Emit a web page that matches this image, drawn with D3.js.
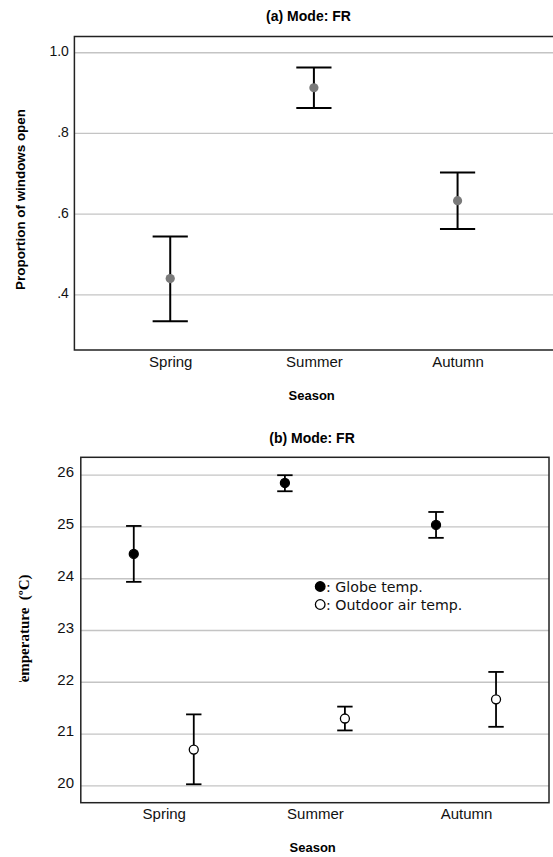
<!DOCTYPE html>
<html>
<head>
<meta charset="utf-8">
<script src="https://cdn.jsdelivr.net/npm/d3@7"></script>
<style>
  html, body { margin: 0; padding: 0; background: #fff; }
  svg { display: block; }
</style>
</head>
<body>
<svg id="chart" width="553" height="857"></svg>
<script>
// ---------- data ----------
const seasons = ["Spring", "Summer", "Autumn"];

// (a) proportion of windows open
const propMean = [0.439, 0.912, 0.632];
const propLow  = [0.333, 0.862, 0.562];
const propHigh = [0.543, 0.962, 0.702];
const propTicks = [0.4, 0.6, 0.8, 1.0];
const propTickLabels = [".4", ".6", ".8", "1.0"];

// (b) temperatures
const globeMean = [24.47, 25.84, 25.03];
const globeLow  = [23.93, 25.68, 24.78];
const globeHigh = [25.01, 25.99, 25.28];
const outMean = [20.69, 21.29, 21.66];
const outLow  = [20.02, 21.06, 21.13];
const outHigh = [21.37, 21.52, 22.19];
const tempTicks = [20, 21, 22, 23, 24, 25, 26];
const seriesNames = ["globe", "outdoor"];
const legendLabels = [": Globe temp.", ": Outdoor air temp."];

// ---------- drawing ----------
const svg = d3.select("#chart");
const sans = "'Liberation Sans', Arial, Helvetica, sans-serif";
const gridColor = "#c4c4c4";
const frameColor = "#222";

// ===== Panel (a) =====
const A = { left: 74.4, right: 553.4, top: 36.5, bottom: 350 };
const xA = d3.scalePoint().domain(seasons).range([A.left, A.right]).padding(0.667);
const yA = d3.scaleLinear().domain([0.262, 1.039]).range([A.bottom, A.top]);

const gA = svg.append("g");
gA.append("g")
  .attr("transform", `translate(${A.left},0)`)
  .call(d3.axisLeft(yA).tickValues(propTicks).tickSize(-(A.right - A.left)).tickFormat(""))
  .call(g => g.select(".domain").remove())
  .call(g => g.selectAll("line").attr("stroke", gridColor).attr("stroke-width", 1.3));
gA.append("g")
  .attr("transform", `translate(${A.left},0)`)
  .call(d3.axisLeft(yA).tickValues(propTicks).tickSize(0).tickPadding(5.5)
        .tickFormat((d, i) => propTickLabels[i]))
  .call(g => g.select(".domain").remove())
  .call(g => g.selectAll("text").attr("font-family", sans).attr("font-size", 14)
        .attr("fill", "#111").attr("dy", "0.25em"));
gA.append("g")
  .attr("transform", `translate(0,${A.bottom})`)
  .call(d3.axisBottom(xA).tickSize(0).tickPadding(6))
  .call(g => g.select(".domain").remove())
  .call(g => g.selectAll("text").attr("font-family", sans).attr("font-size", 15)
        .attr("fill", "#111"));
gA.append("path")
  .attr("d", `M${A.right},${A.top}H${A.left}V${A.bottom}H${A.right}`)
  .attr("fill", "none").attr("stroke", frameColor).attr("stroke-width", 1.5);

const capA = 17.6;
seasons.forEach((s, i) => {
  const x = xA(s);
  const g = gA.append("g").attr("stroke", "#000").attr("stroke-width", 2);
  g.append("line").attr("x1", x).attr("x2", x).attr("y1", yA(propLow[i])).attr("y2", yA(propHigh[i]));
  g.append("line").attr("x1", x - capA).attr("x2", x + capA).attr("y1", yA(propLow[i])).attr("y2", yA(propLow[i]));
  g.append("line").attr("x1", x - capA).attr("x2", x + capA).attr("y1", yA(propHigh[i])).attr("y2", yA(propHigh[i]));
  gA.append("circle").attr("cx", x).attr("cy", yA(propMean[i])).attr("r", 4.6).attr("fill", "#7a7a7a");
});

svg.append("text").attr("x", 308.5).attr("y", 20.8).attr("text-anchor", "middle")
  .attr("font-family", sans).attr("font-weight", "bold").attr("font-size", 14)
  .text("(a) Mode: FR");
svg.append("text").attr("x", 311.7).attr("y", 400).attr("text-anchor", "middle")
  .attr("font-family", sans).attr("font-weight", "bold").attr("font-size", 13)
  .text("Season");
svg.append("text")
  .attr("transform", "translate(25,199.5) rotate(-90)")
  .attr("text-anchor", "middle")
  .attr("font-family", sans).attr("font-weight", "bold").attr("font-size", 13.4)
  .text("Proportion of windows open");

// ===== Panel (b) =====
const B = { left: 80.8, right: 549, top: 457.3, bottom: 802.7 };
const xB = d3.scalePoint().domain(seasons).range([B.left, B.right]).padding(0.549);
const offB = d3.scalePoint().domain(seriesNames).range([-30, 30]);
const yB = d3.scaleLinear().domain([19.664, 26.336]).range([B.bottom, B.top]);

const gB = svg.append("g");
gB.append("g")
  .attr("transform", `translate(${B.left},0)`)
  .call(d3.axisLeft(yB).tickValues(tempTicks).tickSize(-(B.right - B.left)).tickFormat(""))
  .call(g => g.select(".domain").remove())
  .call(g => g.selectAll("line").attr("stroke", gridColor).attr("stroke-width", 1.3));
gB.append("g")
  .attr("transform", `translate(${B.left},0)`)
  .call(d3.axisLeft(yB).tickValues(tempTicks).tickSize(0).tickPadding(6.8).tickFormat(d3.format("d")))
  .call(g => g.select(".domain").remove())
  .call(g => g.selectAll("text").attr("font-family", sans).attr("font-size", 15)
        .attr("fill", "#111").attr("dy", "0.15em"));
gB.append("g")
  .attr("transform", `translate(0,${B.bottom})`)
  .call(d3.axisBottom(xB).tickSize(0).tickPadding(6))
  .call(g => g.select(".domain").remove())
  .call(g => g.selectAll("text").attr("font-family", sans).attr("font-size", 15)
        .attr("fill", "#111"));
gB.append("rect")
  .attr("x", B.left).attr("y", B.top)
  .attr("width", B.right - B.left).attr("height", B.bottom - B.top)
  .attr("fill", "none").attr("stroke", frameColor).attr("stroke-width", 1.5);

const capB = 7.7;
const seriesB = [
  { name: "globe", mean: globeMean, low: globeLow, high: globeHigh, fill: "#000" },
  { name: "outdoor", mean: outMean, low: outLow, high: outHigh, fill: "#fff" }
];
seriesB.forEach(sr => {
  seasons.forEach((s, i) => {
    const x = xB(s) + offB(sr.name);
    const g = gB.append("g").attr("stroke", "#000").attr("stroke-width", 1.8);
    g.append("line").attr("x1", x).attr("x2", x).attr("y1", yB(sr.low[i])).attr("y2", yB(sr.high[i]));
    g.append("line").attr("x1", x - capB).attr("x2", x + capB).attr("y1", yB(sr.low[i])).attr("y2", yB(sr.low[i]));
    g.append("line").attr("x1", x - capB).attr("x2", x + capB).attr("y1", yB(sr.high[i])).attr("y2", yB(sr.high[i]));
    gB.append("circle").attr("cx", x).attr("cy", yB(sr.mean[i])).attr("r", 4.5)
      .attr("fill", sr.fill).attr("stroke", "#000").attr("stroke-width", 1.3);
  });
});

// legend
const legY = d3.scalePoint().domain(seriesNames).range([586.5, 604.5]);
seriesB.forEach((sr, i) => {
  const y = legY(sr.name);
  svg.append("circle").attr("cx", 320.2).attr("cy", y).attr("r", 4.8)
    .attr("fill", sr.fill).attr("stroke", "#000").attr("stroke-width", 1.3);
  svg.append("text").attr("x", 326).attr("y", y + 5)
    .attr("font-family", "'DejaVu Sans', sans-serif").attr("font-size", 14.2).attr("fill", "#111")
    .text(legendLabels[i]);
});

svg.append("text").attr("x", 312).attr("y", 442.5).attr("text-anchor", "middle")
  .attr("font-family", sans).attr("font-weight", "bold").attr("font-size", 14)
  .text("(b) Mode: FR");
svg.append("text").attr("x", 312.7).attr("y", 852).attr("text-anchor", "middle")
  .attr("font-family", sans).attr("font-weight", "bold").attr("font-size", 13)
  .text("Season");

// clipped y label (its start is cut off in the reference)
svg.append("clipPath").attr("id", "ylabclip")
  .append("rect").attr("x", 0).attr("y", 540).attr("width", 60).attr("height", 142);
svg.append("g").attr("clip-path", "url(#ylabclip)")
  .append("text")
  .attr("transform", "translate(29,691) rotate(-90)")
  .attr("text-anchor", "start")
  .attr("font-family", "'Liberation Serif', 'Times New Roman', serif")
  .attr("font-weight", "bold").attr("font-size", 15)
  .attr("xml:space", "preserve")
  .text("Temperature  (ºC)");
</script>
</body>
</html>
